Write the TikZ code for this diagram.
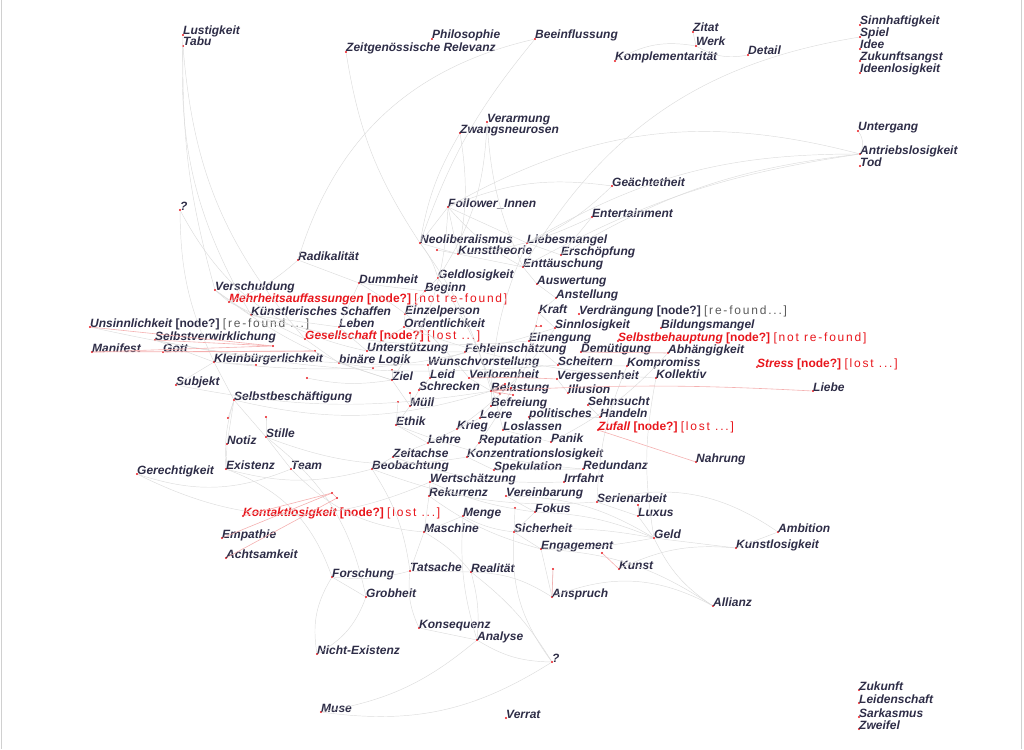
\documentclass[tikz,border=0pt]{standalone}
\usepackage{fontspec}
\newfontfamily\kwfamily{Liberation Sans}
\newfontfamily\spacedfamily[LetterSpace=15]{Liberation Sans}
\usetikzlibrary{positioning}
\definecolor{cText}{HTML}{2E2D47}
\definecolor{cRed}{HTML}{E8161C}
\definecolor{cNote}{HTML}{5A5A5A}
\definecolor{cEdge}{HTML}{DCDCDC}
\definecolor{cRedEdge}{HTML}{F4B0B0}
\definecolor{cFrame}{HTML}{D0D0D0}
\newcommand{\qtag}{{\upshape[node?]}}
\newcommand{\lostnote}[1]{{\spacedfamily\mdseries\upshape #1}}

\begin{document}
\begin{tikzpicture}[x=1pt,y=-1pt,
  kw/.style={anchor=base west,inner sep=0pt,text=cText,
    font=\kwfamily\bfseries\itshape\fontsize{12}{12}\selectfont},
  kwred/.style={kw,text=cRed},
  dot/.style={circle,fill=cRed,inner sep=0pt,minimum size=2.2pt},
  edge/.style={cEdge,line width=0.45pt},
  redge/.style={cRedEdge,line width=0.6pt}]

\useasboundingbox (0,0) rectangle (1024,749);
\draw[cFrame,line width=1pt] (1.5,0) -- (1.5,749) (1021.5,0) -- (1021.5,749);

%============================ KEYWORDS ============================
\foreach \n/\x/\y/\t in {
  Lust/183/35/Lustigkeit, Tabu/183/46/Tabu, Phil/432/39/Philosophie,
  Zeit/346/52/Zeitgenössische Relevanz, Beein/535/39/Beeinflussung,
  Zitat/693/32/Zitat, Werk/696/46/Werk, Kompl/615/61/Komplementarität,
  Detail/748/55/Detail, Sinnh/860/25/Sinnhaftigkeit, Spiel/860/37/Spiel,
  Idee/860/49/Idee, Zuku/860/61/Zukunftsangst, Ideenl/860/73/Ideenlosigkeit,
  Verarm/487/122/Verarmung, Zwang/460/133/Zwangsneurosen,
  Unterg/858/131/Untergang, Antrieb/860/154/Antriebslosigkeit, Tod/860/166/Tod,
  Geacht/612/186/Geächtetheit, Frage1/180/210/?, Follow/448/207/Follower\_Innen,
  Enter/592/217/Entertainment, Neolib/420/243/Neoliberalismus,
  Liebesm/527/243/Liebesmangel, Kunstth/458/254/Kunsttheorie,
  Ersch/561/255/Erschöpfung, Radik/298/260/Radikalität,
  Enttae/523/267/Enttäuschung, Geldl/438/278/Geldlosigkeit,
  Dummh/359/283/Dummheit, Ausw/537/284/Auswertung,
  Verschul/215/290/Verschuldung, Beginn/425/291/Beginn,
  Anstell/556/298/Anstellung, Kraft/539/313/Kraft,
  Kuenstl/251/315/Künstlerisches Schaffen, Einzel/405/314/Einzelperson,
  Leben/339/327/Leben, Ordentl/404/327/Ordentlichkeit,
  Sinnl/555/328/Sinnlosigkeit, Bildung/661/328/Bildungsmangel,
  Selbstverw/155/340/Selbstverwirklichung, Einengung/529/341/Einengung,
  Manifest/92/352/Manifest, Gott/163/352/Gott, Unterst/367/351/Unterstützung,
  Fehlein/465/352/Fehleinschätzung, Demuet/581/352/Demütigung,
  Abhaeng/668/353/Abhängigkeit, Kleinb/214/362/Kleinbürgerlichkeit,
  binaer/339/363/binäre Logik, Wunsch/428/365/Wunschvorstellung,
  Scheit/558/365/Scheitern, Kompro/627/366/Kompromiss,
  Ziel/392/380/Ziel, Leid/430/378/Leid, Verloren/469/378/Verlorenheit,
  Vergessen/557/379/Vergessenheit, Kollektiv/656/378/Kollektiv,
  Subjekt/176/385/Subjekt, Schreck/419/390/Schrecken,
  Belast/491/391/Belastung, Illusion/568/393/Illusion, Liebe/813/391/Liebe,
  Selbstbes/234/400/Selbstbeschäftigung, Muell/410/406/Müll,
  Befrei/491/406/Befreiung, Sehns/588/405/Sehnsucht,
  Leere/480/418/Leere, polit/529/417/politisches, Handeln/600/417/Handeln,
  Ethik/396/425/Ethik, Krieg/457/429/Krieg, Loslas/503/430/Loslassen,
  Stille/266/437/Stille, Panik/551/442/Panik, Lehre/428/443/Lehre,
  Reput/479/443/Reputation, Notiz/227/444/Notiz,
  Zeitachse/393/457/Zeitachse, Konzent/467/457/Konzentrationslosigkeit,
  Nahrung/696/462/Nahrung, Beob/372/469/Beobachtung,
  Spekul/494/470/Spekulation, Redund/583/469/Redundanz,
  Existenz/226/469/Existenz, Team/291/469/Team, Gerecht/137/474/Gerechtigkeit,
  Wertsch/430/482/Wertschätzung, Irrfahrt/564/482/Irrfahrt,
  Rekurr/429/496/Rekurrenz, Verein/506/496/Vereinbarung,
  Serien/597/502/Serienarbeit, Fokus/535/512/Fokus, Menge/463/516/Menge,
  Luxus/638/516/Luxus, Maschine/424/532/Maschine, Sicher/514/532/Sicherheit,
  Ambition/778/532/Ambition, Geld/654/538/Geld, Empathie/222/538/Empathie,
  Kunstlos/736/548/Kunstlosigkeit, Engag/541/549/Engagement,
  Achtsam/226/558/Achtsamkeit, Kunst/619/569/Kunst,
  Tatsache/410/571/Tatsache, Realit/471/572/Realität,
  Forsch/332/577/Forschung, Grobheit/366/597/Grobheit,
  Anspruch/552/597/Anspruch, Allianz/713/606/Allianz,
  Konseq/419/628/Konsequenz, Analyse/477/640/Analyse,
  Nichtex/317/654/Nicht-Existenz, Frage2/552/662/?,
  Zukunft/859/690/Zukunft, Leidens/859/703/Leidenschaft,
  Sarkas/859/717/Sarkasmus, Zweifel/859/729/Zweifel,
  Muse/321/712/Muse, Verrat/506/718/Verrat}{
  \node[dot] (\n) at (\x,\y) {};
  \node[kw] (t\n) at (\n.center) {\t};
}

% flagged keywords
\node[dot] (Mehrh) at (229,302) {};
\node[kwred] (tMehrh) at (Mehrh.center)
  {Mehrheitsauffassungen \qtag\ \lostnote{[not re-found]}};
\node[dot] (Verdr) at (579,314) {};
\node[kw] (tVerdr) at (Verdr.center)
  {Verdrängung \qtag\ \textcolor{cNote}{\lostnote{[re-found...]}}};
\node[dot] (Unsinn) at (90,327) {};
\node[kw] (tUnsinn) at (Unsinn.center)
  {Unsinnlichkeit \qtag\ \textcolor{cNote}{\lostnote{[re-found ...]}}};
\node[dot] (Gesell) at (305,339) {};
\node[kwred] (tGesell) at (Gesell.center)
  {Gesellschaft \qtag\ \lostnote{[lost ...]}};
\node[dot] (Selbstbeh) at (618,341) {};
\node[kwred] (tSelbstbeh) at (Selbstbeh.center)
  {Selbstbehauptung \qtag\ \lostnote{[not re-found]}};
\node[dot] (Stress) at (757,367) {};
\node[kwred] (tStress) at (Stress.center)
  {Stress \qtag\ \lostnote{[lost ...]}};
\node[dot] (Zufall) at (598,430) {};
\node[kwred] (tZufall) at (Zufall.center)
  {Zufall \qtag\ \lostnote{[lost ...]}};
\node[dot] (Kontakt) at (243,516) {};
\node[kwred] (tKontakt) at (Kontakt.center)
  {Kontaktlosigkeit \qtag\ \lostnote{[lost ...]}};

% unlabelled points
\foreach \n/\x/\y in {h1/273/346, h2/315/351, h3/256/365, h4/307/378,
  h5/228/418, h6/266/417, h7/392/370, h8/373/368, h9/410/393, h10/398/402,
  h11/332/493, h12/337/498, h13/515/508, h14/602/553, h15/553/569,
  h16/638/505, h17/505/384, h18/511/388, h19/500/394, h20/513/395,
  h21/536/326, h22/541/326, h23/437/250}
  \node[dot] (\n) at (\x,\y) {};

%============================ EDGES ============================
\foreach \a/\b/\bb in {
  Tabu/Verschul/-8, Tabu/Gesell/-18, Lust/Kuenstl/-16, Frage1/Kleinb/-12,
  Frage1/Unterst/-25, Zeit/Neolib/-12, Beein/Radik/-30, Beein/Neolib/-10,
  Zwang/Kunstth/10, Zwang/Neolib/-10, Verarm/Enttae/-10, Verarm/Geldl/15,
  Kompl/Werk/20, Werk/Detail/-20, Zitat/Werk/0, Spiel/Enttae/-25,
  Antrieb/Follow/-22, Antrieb/Ersch/-12, Antrieb/Liebesm/-15,
  Antrieb/Enttae/-10, Unterg/Antrieb/30, Geacht/Liebesm/10,
  Geacht/Follow/-15, Enter/Ersch/0, Enter/Kunstth/10, Follow/Neolib/0,
  Follow/Liebesm/0, Follow/Kunstth/0, Follow/Enttae/-10,
  Radik/Dummh/0, Radik/Mehrh/10, Verschul/Mehrh/0, Neolib/Kunstth/0,
  Neolib/Geldl/10, Kunstth/Enttae/0, Liebesm/Ersch/0, Enttae/Ausw/0,
  Geldl/Beginn/0, Dummh/Beginn/0, Beginn/Einzel/0, Ausw/Anstell/0,
  Anstell/Kraft/0, Kraft/Sinnl/0, Einzel/Ordentl/0, Ordentl/Unterst/0,
  Leben/Unterst/0, Kuenstl/Leben/0, Mehrh/Gesell/0, Gesell/binaer/0,
  Unterst/Fehlein/0, Fehlein/Wunsch/0, Einengung/Scheit/0,
  Demuet/Abhaeng/0, Scheit/Kompro/0, Wunsch/Leid/0, Leid/Schreck/0,
  Verloren/Belast/0, Vergessen/Illusion/0, Belast/Befrei/0, Befrei/Leere/0,
  Leere/Krieg/0, polit/Handeln/0, Sehns/Handeln/0, Loslas/Panik/0,
  Krieg/Lehre/0, Lehre/Zeitachse/0, Reput/Konzent/0, Zeitachse/Beob/0,
  Konzent/Spekul/0, Spekul/Redund/0, Wertsch/Rekurr/0, Rekurr/Maschine/0,
  Verein/Fokus/0, Fokus/Sicher/0, Serien/Luxus/0, Luxus/Geld/0,
  Sicher/Engag/0, Menge/Maschine/0, Maschine/Tatsache/0,
  Tatsache/Realit/0, Realit/Analyse/10, Forsch/Grobheit/0,
  Konseq/Analyse/0, Selbstbes/Notiz/0, Notiz/Existenz/0, Stille/Team/0,
  Ziel/Muell/0, Muell/Ethik/0, Ethik/Lehre/0, Schreck/Muell/0,
  binaer/Ziel/0, Kleinb/Selbstbes/0, Selbstverw/Kleinb/0,
  Subjekt/Kleinb/0, Verschul/Kuenstl/0, Dummh/Leben/0,
  Gerecht/Team/-20, Gerecht/Wertsch/-25, Existenz/Beob/-15,
  Existenz/Selbstbes/10, Stille/Konzent/-15, Selbstbes/Belast/-15,
  Selbstbes/Stille/0, Team/Maschine/-20, Nichtex/Grobheit/-20,
  Nichtex/Forsch/20, Muse/Analyse/-15, Muse/Frage2/-20,
  Konseq/Tatsache/15, Frage2/Analyse/15, Frage2/Sicher/20,
  Frage2/Realit/-10, Analyse/Menge/10, Allianz/Anspruch/-25,
  Allianz/Geld/15, Allianz/Engag/-15, Ambition/Serien/-25,
  Ambition/Kunstlos/0, Kunstlos/Kunst/-15, Kunstlos/Geld/0,
  Geld/Fokus/-10, Geld/Engag/5, Geld/Sicher/-8, Geld/Verein/-15,
  Anspruch/Realit/-15, Anspruch/Engag/0, Tatsache/Forsch/10,
  Maschine/Realit/10, Menge/Sicher/-10, Kleinb/Sinnl/-12,
  Ordentl/Kollektiv/-8, Unsinn/Wunsch/-6, Selbstverw/Scheit/-8,
  Subjekt/Belast/-10, Kuenstl/Einengung/-10, Beob/Serien/-12,
  Zeitachse/Irrfahrt/-10, Ethik/Redund/-8, Verschul/Ziel/-10,
  Dummh/Verloren/10, Neolib/Belast/10, Liebesm/Belast/-10,
  Geldl/Loslas/10, Follow/Ziel/15, Kraft/Reput/10, Sinnl/Krieg/10,
  Abhaeng/Panik/10, Kompro/Serien/-10, Kollektiv/Geld/-10,
  Wertsch/Fokus/-8, Rekurr/Engag/-10, Beob/Tatsache/12,
  Stille/Grobheit/20, Existenz/Forsch/25, h5/Selbstbes/0, h6/Stille/0,
  h3/Kleinb/0, h4/Ziel/-10, h7/Ziel/0, h8/binaer/0, h9/Muell/0,
  h10/Ethik/0, h13/Sicher/0, h15/Anspruch/0, h16/Luxus/0,
  h21/Einengung/0, h23/Kunstth/0}
  \draw[edge] (\a) to[bend left=\bb] (\b);

\foreach \a/\b in {Unsinn/h1, Manifest/h1, Manifest/h2, Gott/h2,
  Selbstverw/h1, Kontakt/h11, Empathie/h11, Achtsam/h12, h11/h12,
  Zufall/Nahrung, h14/Kunst, h17/Belast, h18/Belast, h19/Belast,
  h20/Belast, h21/h22, Demuet/Abhaeng, h15/Anspruch}
  \draw[redge] (\a) -- (\b);
\draw[redge] (Belast) to[bend left=3] (Liebe);
\draw[redge] (Verloren) to[bend left=2] (Vergessen);

\end{tikzpicture}
\end{document}
